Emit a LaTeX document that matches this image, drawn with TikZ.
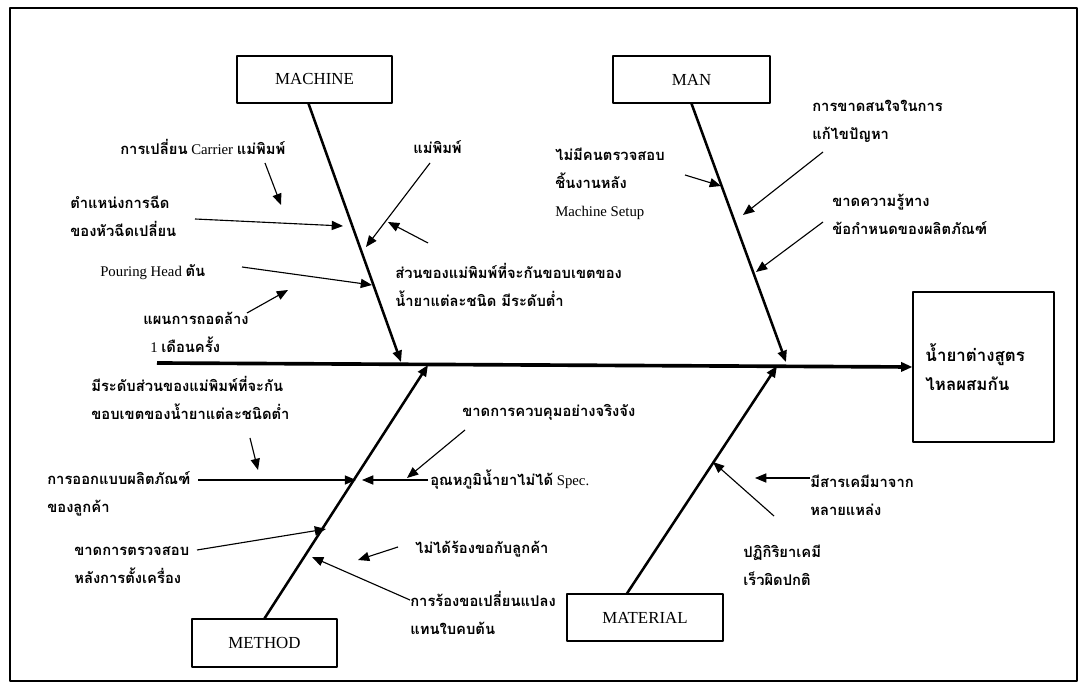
\documentclass[tikz,border=0pt]{standalone}
\usepackage{fontspec}
\setmainfont{Liberation Serif}
\newfontfamily\thaifont[Script=Thai]{Loma}
\newcommand{\tha}[1]{{\thaifont\bfseries #1}}
\usetikzlibrary{arrows.meta}
\begin{document}
\begin{tikzpicture}[x=0.025cm,y=-0.025cm,line join=round,>={Triangle[length=8pt,width=6.5pt]},
	cat/.style={draw,line width=0.8pt,minimum height=1.175cm,font=\fontsize{12}{14}\selectfont},
	lbl/.style={anchor=west,align=left,inner sep=0pt,font=\fontsize{10.5}{20}\selectfont},
	bone/.style={->,line width=1.8pt},
	cause/.style={->,line width=0.8pt}]
	\useasboundingbox (0,0) rectangle (1081,688);
	\draw[line width=1.4pt] (10,8) rectangle (1077,681);
	% category boxes and the effect
	\node[cat,minimum width=3.875cm] (machine) at (314.5,79.5) {MACHINE};
	\node[cat,minimum width=3.925cm] (man) at (691.5,79.5) {MAN};
	\node[cat,minimum width=3.625cm,minimum height=1.2cm] (method) at (264.5,643) {METHOD};
	\node[cat,minimum width=3.9cm] (material) at (645,617.5) {MATERIAL};
	\node[draw,line width=0.8pt,minimum width=3.525cm,minimum height=3.75cm,text width=2.9cm,align=left,
		font=\fontsize{12}{21}\selectfont] (effect) at (983.5,367) {\tha{น้ำยาต่างสูตร}\\\tha{ไหลผสมกัน}};
	% spine and bones
	\coordinate (tail) at (157,363);
	\coordinate (machtip) at (401,362);
	\coordinate (mantip) at (786,362);
	\coordinate (methtip) at (428,365);
	\coordinate (mattip) at (777,366);
	\draw[->,line width=2.6pt] (tail) -- (effect.west);
	\draw[bone] ([xshift=-0.15cm]machine.south) -- (machtip);
	\draw[bone] (man.south) -- (mantip);
	\draw[bone] (method.north) -- (methtip);
	\draw[bone] ([xshift=-0.45cm]material.north) -- (mattip);
	% machine
	\node[lbl] (carrier) at (120,147) {\tha{การเปลี่ยน} Carrier \tha{แม่พิมพ์}};
	\node[lbl] (mold) at (413,147) {\tha{แม่พิมพ์}};
	\node[lbl] (nozzle) at (70,216) {\tha{ตำแหน่งการฉีด}\\\tha{ของหัวฉีดเปลี่ยน}};
	\node[lbl] (pouring) at (100,272) {Pouring Head \tha{ตัน}};
	\node[lbl] (plan) at (143,332) {\tha{แผนการถอดล้าง}\\\hspace*{5pt}1 \tha{เดือนครั้ง}};
	\node[lbl] (part) at (395,285) {\tha{ส่วนของแม่พิมพ์ที่จะกันขอบเขตของ}\\\tha{น้ำยาแต่ละชนิด มีระดับต่ำ}};
	\draw[cause] (265,163) -- (281,205);
	\draw[cause] (195,219) -- (343,226);
	\draw[cause] (430,163) -- (366,247);
	\draw[cause] (428,243) -- (388,222);
	\draw[cause] (242,267) -- (372,285);
	\draw[cause] (247,313) -- (288,290);
	% man
	\node[lbl] (inspect) at (555,184) {\tha{ไม่มีคนตรวจสอบ}\\\tha{ชิ้นงานหลัง}\\Machine Setup};
	\node[lbl] (attention) at (812,121) {\tha{การขาดสนใจในการ}\\\tha{แก้ไขปัญหา}};
	\node[lbl] (knowledge) at (832,214) {\tha{ขาดความรู้ทาง}\\\tha{ข้อกำหนดของผลิตภัณฑ์}};
	\draw[cause] (685,175) -- (721,186);
	\draw[cause] (823,152) -- (743,215);
	\draw[cause] (823,222) -- (756,272);
	% method
	\node[lbl] (level) at (91,398) {\tha{มีระดับส่วนของแม่พิมพ์ที่จะกัน}\\\tha{ขอบเขตของน้ำยาแต่ละชนิดต่ำ}};
	\node[lbl] (control) at (462,412) {\tha{ขาดการควบคุมอย่างจริงจัง}};
	\node[lbl] (design) at (47,494) {\tha{การออกแบบผลิตภัณฑ์}\\\tha{ของลูกค้า}};
	\node[lbl] (temp) at (430,480) {\tha{อุณหภูมิน้ำยาไม่ได้} Spec.};
	\node[lbl] (check) at (74,565) {\tha{ขาดการตรวจสอบ}\\\tha{หลังการตั้งเครื่อง}};
	\node[lbl] (request) at (415,549) {\tha{ไม่ได้ร้องขอกับลูกค้า}};
	\node[lbl] (change) at (410,613) {\tha{การร้องขอเปลี่ยนแปลง}\\\tha{แทนใบคบต้น}};
	\draw[cause] (250,438) -- (258,470);
	\draw[cause] (198,480) -- (356,480);
	\draw[cause] (428,480) -- (362,480);
	\draw[cause] (465,430) -- (407,478);
	\draw[cause] (197,550) -- (326,529);
	\draw[cause] (410,600) -- (312,557);
	\draw[cause] (398,547) -- (358,560);
	% material
	\node[lbl] (source) at (810,495) {\tha{มีสารเคมีมาจาก}\\\tha{หลายแหล่ง}};
	\node[lbl] (react) at (743,565) {\tha{ปฏิกิริยาเคมี}\\\tha{เร็วผิดปกติ}};
	\draw[cause] (source.west |- 0,478) -- (755,478);
	\draw[cause] (774,516) -- (713,462);
\end{tikzpicture}
\end{document}
